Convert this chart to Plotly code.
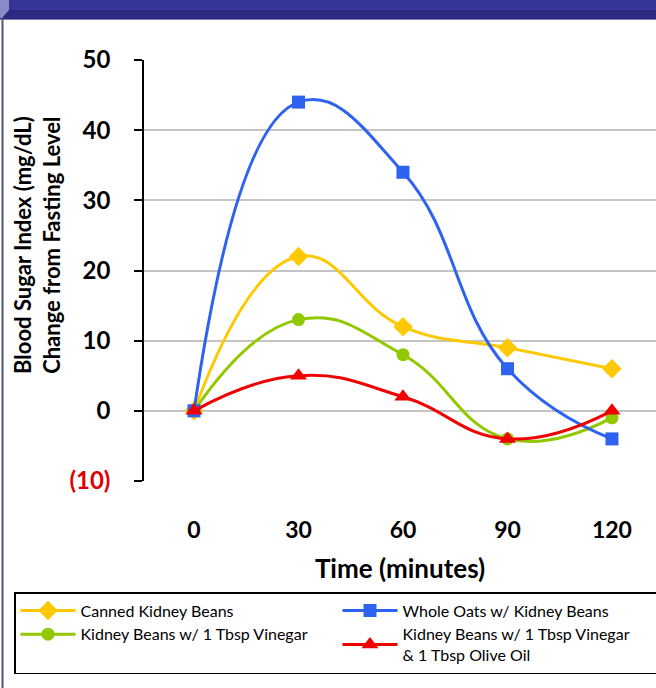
import plotly.graph_objects as go

times = [0, 30, 60, 90, 120]
canned = [0, 22, 12, 9, 6]
oats = [0, 44, 34, 6, -4]
vinegar = [0, 13, 8, -4, -1]
vinegar_oil = [0, 5, 2, -4, 0]

y_ticks = [-10, 0, 10, 20, 30, 40, 50]
y_ticktext = ["<span style='color:#E00000'>(10)</span>", "0", "10", "20", "30", "40", "50"]
x_ticks = [0, 30, 60, 90, 120]
x_between = [15, 45, 75, 105]

names = ["Canned Kidney Beans", "Whole Oats w/ Kidney Beans",
         "Kidney Beans w/ 1 Tbsp Vinegar",
         "Kidney Beans w/ 1 Tbsp Vinegar<br>& 1 Tbsp Olive Oil"]

W, H = 656, 688
L, R, T, B = 144, 0, 60, 207
pw, ph = W - L - R, H - T - B

def px_x(p):
    return (p - L) / pw

def px_y(p):
    return (H - B - p) / ph

FONT = "Lato"

fig = go.Figure()
series = [
    (canned, names[0], "#FFC800", "diamond", 15, 1),
    (vinegar, names[2], "#92C800", "circle", 13, 3),
    (oats, names[1], "#2E62F0", "square", 13, 2),
    (vinegar_oil, names[3], "#F00000", "triangle-up", 15, 4),
]
for ys, nm, col, sym, sz, rank in series:
    fig.add_trace(go.Scatter(
        x=times, y=ys, name=nm, mode="lines+markers",
        line=dict(color=col, width=3, shape="spline", smoothing=1.3),
        marker=dict(symbol=sym, size=sz, color=col),
        legendrank=rank,
    ))

xr = [-50 / 3.483, (W - 194) / 3.483]

fig.update_layout(
    width=W, height=H,
    margin=dict(l=L, r=R, t=T, b=B, autoexpand=False),
    paper_bgcolor="white", plot_bgcolor="white",
    font=dict(family=FONT, color="black"),
    showlegend=True,
    xaxis=dict(range=xr, tickvals=x_ticks, showgrid=False, zeroline=False,
               showline=False, ticks="outside", ticklen=28,
               tickcolor="rgba(0,0,0,0)",
               tickfont=dict(family=FONT, size=23, color="black", weight="bold"),
               title=dict(text="<b>Time (minutes)</b>", font=dict(size=26, family=FONT),
                          standoff=18)),
    xaxis2=dict(range=xr, overlaying="x", anchor="free", position=1/6,
                tickvals=x_between, showticklabels=False, ticks="outside",
                ticklen=10, tickcolor="black", tickwidth=1.5,
                showline=True, linecolor="black", linewidth=1.5,
                showgrid=False, zeroline=False),
    yaxis=dict(range=[-10, 50], tickvals=y_ticks, ticktext=y_ticktext,
               showgrid=True, gridcolor="#C4C4C4", gridwidth=1.5,
               zeroline=False, showline=True, linecolor="black", linewidth=1.5,
               ticks="outside", ticklen=8, tickcolor="black", tickwidth=1.5,
               ticklabelstandoff=19,
               tickfont=dict(family=FONT, size=24, color="black", weight="bold")),
    legend=dict(orientation="h", x=px_x(14), xanchor="left",
                y=px_y(592), yanchor="top",
                entrywidth=252, entrywidthmode="pixels",
                bordercolor="black", borderwidth=1.5, bgcolor="white",
                font=dict(family=FONT, size=16, color="black"),
                tracegroupgap=0, itemwidth=55),
)

fig.add_annotation(
    xref="paper", yref="paper", x=px_x(37), y=px_y(245),
    text="<b>Blood Sugar Index (mg/dL)<br>Change from Fasting Level</b>",
    textangle=-90, showarrow=False, font=dict(family=FONT, size=22, color="black"),
    xanchor="center", yanchor="middle",
)

# slide banner and border
fig.add_shape(type="rect", xref="paper", yref="paper",
              x0=px_x(0), x1=px_x(W), y0=px_y(10), y1=px_y(0),
              fillcolor="#363699", line_width=0, layer="above")
fig.add_shape(type="rect", xref="paper", yref="paper",
              x0=px_x(0), x1=px_x(W), y0=px_y(19), y1=px_y(10),
              fillcolor="#2A2A82", line_width=0, layer="above")
fig.add_shape(type="line", xref="paper", yref="paper",
              x0=px_x(0), x1=px_x(W), y0=px_y(19.5), y1=px_y(19.5),
              line=dict(color="#8080A0", width=1), layer="above")
fig.add_shape(type="path", xref="paper", yref="paper",
              path=f"M {px_x(0)},{px_y(0)} L {px_x(9)},{px_y(0)} L {px_x(9)},{px_y(10)} L {px_x(2)},{px_y(18)} L {px_x(0)},{px_y(18)} Z",
              fillcolor="#8A8AC8", line_width=0, layer="above")
fig.add_shape(type="line", xref="paper", yref="paper",
              x0=px_x(2.5), x1=px_x(2.5), y0=px_y(H), y1=px_y(18),
              line=dict(color="#55557A", width=2), layer="above")

fig.write_html("out.html")
